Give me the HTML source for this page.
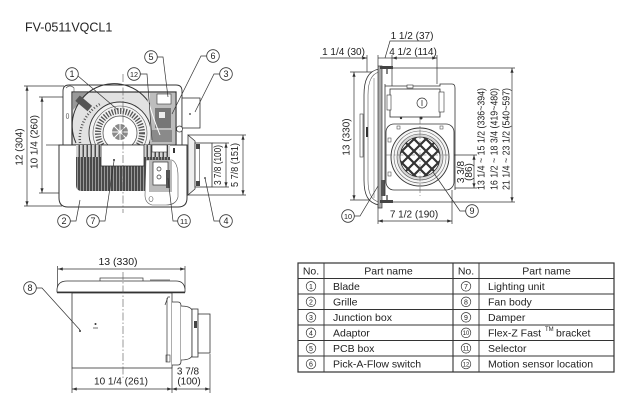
<!DOCTYPE html>
<html><head><meta charset="utf-8"><style>
html,body{margin:0;padding:0;background:#fff;}
svg{display:block;}
text{font-family:"Liberation Sans",Arial,sans-serif;fill:#222;}
</style></head><body>
<svg width="640" height="408" viewBox="0 0 640 408" xmlns="http://www.w3.org/2000/svg">
<defs>
<marker id="ar" viewBox="0 0 6 4" refX="6" refY="2" markerWidth="5" markerHeight="3.2" markerUnits="userSpaceOnUse" orient="auto-start-reverse"><path d="M0,0 L6,2 L0,4z" fill="#333"/></marker>
<pattern id="hd" width="3" height="10" patternUnits="userSpaceOnUse"><rect width="3" height="10" fill="#4a4a4a"/><rect x="2" width="1" height="10" fill="#9a9a9a"/></pattern>
<pattern id="hl" width="4" height="10" patternUnits="userSpaceOnUse"><rect width="4" height="10" fill="#d4d4d4"/><rect x="2.5" width="1.5" height="10" fill="#4a4a4a"/></pattern>
<clipPath id="dc"><circle cx="420" cy="157" r="20"/></clipPath>
</defs>

<text x="25" y="31.5" font-size="12.5">FV-0511VQCL1</text>

<!-- ============ TOP-LEFT DRAWING ============ -->
<g stroke="#333" stroke-width="0.7" fill="none">
  <line x1="24" y1="86" x2="64" y2="86"/>
  <line x1="24" y1="206" x2="62" y2="206"/>
  <line x1="27" y1="86" x2="27" y2="206" marker-start="url(#ar)" marker-end="url(#ar)"/>
  <line x1="39" y1="97" x2="72" y2="97"/>
  <line x1="39" y1="193" x2="78" y2="193"/>
  <line x1="42" y1="97" x2="42" y2="193" marker-start="url(#ar)" marker-end="url(#ar)"/>
  <line x1="46" y1="145" x2="59" y2="145"/>
</g>
<text x="20" y="147" font-size="10" text-anchor="middle" dominant-baseline="central" transform="rotate(-90 20 147)">12 (304)</text>
<text x="35" y="142" font-size="10" text-anchor="middle" dominant-baseline="central" transform="rotate(-90 35 142)">10 1/4 (260)</text>

<path d="M63 145 L63 91 Q63 85 69 85 L176 85 Q182 85 182 91 L182 145" fill="#fff" stroke="#333" stroke-width="0.9"/>
<path d="M66 88 Q70 84 74 88 L74 92" fill="none" stroke="#555" stroke-width="0.6"/>
<ellipse cx="67.5" cy="116" rx="1.3" ry="2.5" fill="none" stroke="#555" stroke-width="0.6"/>
<rect x="72" y="92" width="104" height="53" fill="#e2e2e2" stroke="#333" stroke-width="1.2"/>
<path d="M73 93 L88 93 L73 110 Z" fill="#999"/>
<path d="M76 143 A40 40 0 0 1 152 108" fill="none" stroke="#333" stroke-width="1"/>
<path d="M80 143 A40 40 0 0 1 100 104" fill="none" stroke="#555" stroke-width="2.5" stroke-dasharray="1 2"/>
<circle cx="120" cy="133" r="31" fill="#f2f2f2" stroke="#333" stroke-width="0.9"/>
<circle cx="120" cy="133" r="27" fill="none" stroke="#555" stroke-width="0.6"/>
<circle cx="120" cy="133" r="22" fill="none" stroke="#555" stroke-width="6" stroke-dasharray="1.3 1.5"/>
<circle cx="120" cy="133" r="17" fill="#fff" stroke="#444" stroke-width="0.7"/>
<circle cx="120" cy="132" r="8" fill="#8a8a8a"/>
<path d="M120 124 L120 140 M112 132 L128 132 M114 126 L126 138 M126 126 L114 138" stroke="#fff" stroke-width="1"/>
<rect x="76" y="100" width="16" height="7" transform="rotate(40 84 103)" fill="#555"/>
<rect x="150" y="93" width="25" height="52" fill="#bdbdbd"/>
<rect x="157" y="94" width="14" height="10" fill="#fff" stroke="#333" stroke-width="0.6"/>
<rect x="155" y="108" width="16" height="20" fill="#777"/>
<rect x="159" y="112" width="6" height="6" fill="#eee"/>
<rect x="152" y="130" width="20" height="12" fill="#8a8a8a"/>
<path d="M148 100 Q152 115 160 135" fill="none" stroke="#fff" stroke-width="1"/>

<rect x="182" y="98" width="18" height="30" fill="#fff" stroke="#333" stroke-width="0.8"/>
<circle cx="190" cy="114" r="0.9" fill="#333"/>
<circle cx="179.5" cy="129" r="3" fill="#fff" stroke="#333" stroke-width="0.7"/>

<g stroke="#333" stroke-width="0.7" fill="none">
  <line x1="188" y1="135" x2="246" y2="135"/>
  <line x1="188" y1="195" x2="246" y2="195"/>
  <line x1="212" y1="143" x2="229" y2="143"/>
  <line x1="212" y1="187" x2="229" y2="187"/>
  <line x1="226" y1="143" x2="226" y2="187" marker-start="url(#ar)" marker-end="url(#ar)"/>
  <line x1="243" y1="135" x2="243" y2="195" marker-start="url(#ar)" marker-end="url(#ar)"/>
</g>
<polygon points="188,135 195,141 195,189 188,195" fill="#eee" stroke="#333" stroke-width="0.8"/>
<rect x="195" y="143" width="17" height="44" fill="#fff" stroke="#333" stroke-width="0.8"/>
<rect x="196" y="144" width="4" height="5" fill="#444"/>
<rect x="196" y="181" width="4" height="5" fill="#444"/>
<line x1="199.5" y1="149" x2="199.5" y2="181" stroke="#777" stroke-width="0.8"/>
<circle cx="205" cy="178" r="0.9" fill="#333"/>
<text x="218.5" y="165" font-size="10" text-anchor="middle" dominant-baseline="central" transform="rotate(-90 218.5 165)" textLength="40" lengthAdjust="spacingAndGlyphs">3 7/8 (100)</text>
<text x="235.5" y="165" font-size="10" text-anchor="middle" dominant-baseline="central" transform="rotate(-90 235.5 165)" textLength="44" lengthAdjust="spacingAndGlyphs">5 7/8 (151)</text>

<path d="M59 145 L187 145 L187 198 Q187 207 178 207 L68 207 Q59 207 59 198 Z" fill="#fff" stroke="#333" stroke-width="1"/>
<path d="M76 145 L170 145 L170 160 L148 160 L148 191 L82 191 Q76 191 76 185 Z" fill="url(#hd)"/>
<rect x="76" y="145" width="25" height="12" fill="url(#hl)"/>
<rect x="144" y="145" width="26" height="12" fill="url(#hl)"/>
<rect x="152" y="145" width="15" height="7" fill="#fff" stroke="#333" stroke-width="0.6"/>
<rect x="101" y="145" width="43" height="21" fill="#fff" stroke="#333" stroke-width="0.8"/>
<circle cx="114" cy="160" r="1" fill="#333"/>
<path d="M146 160 L172 160 Q178 163 178 176 L178 197 Q176 205 166 205 L152 205 Q145 203 145 195 Z" fill="#fff" stroke="#555" stroke-width="0.6"/>
<rect x="149" y="160" width="23" height="32" fill="#bbb"/>
<rect x="153" y="162" width="15" height="23" fill="#fff" stroke="#333" stroke-width="0.7"/>
<circle cx="159" cy="169" r="2" fill="none" stroke="#333" stroke-width="0.7"/>
<circle cx="159" cy="177" r="2" fill="none" stroke="#333" stroke-width="0.7"/>
<rect x="166" y="170" width="4" height="18" fill="#555"/>
<ellipse cx="151" cy="199" rx="2" ry="2.5" fill="none" stroke="#555" stroke-width="0.6"/>
<rect x="173" y="148" width="2" height="5" fill="#333"/>

<line x1="123" y1="74" x2="123" y2="213" stroke="#555" stroke-width="0.6" stroke-dasharray="8 2 1.5 2"/>

<g stroke="#333" stroke-width="0.7" fill="none">
  <path d="M78 76 L118 110"/>
  <path d="M140.5 74 L147 74 L152 140"/>
  <path d="M157.5 57 L163 57 L168 97"/>
  <path d="M206.5 56 L201 56 L172 114"/>
  <path d="M219.5 74 L214 74 L195 112"/>
  <path d="M70.5 221 L76 221 L80 200"/>
  <path d="M99.5 221 L105 221 L114 161"/>
  <path d="M177.5 221 L173 221 L168 178"/>
  <path d="M219.5 221 L214 221 L205 178"/>
</g>

<!-- ============ TOP-RIGHT DRAWING ============ -->
<g stroke="#333" stroke-width="0.7" fill="none">
  <line x1="320" y1="58" x2="367" y2="58" marker-end="url(#ar)"/>
  <line x1="378" y1="58" x2="392" y2="58"/>
  <line x1="392" y1="58" x2="437" y2="58" marker-start="url(#ar)" marker-end="url(#ar)"/>
  <line x1="367" y1="55" x2="367" y2="72"/>
  <line x1="378" y1="55" x2="378" y2="66"/>
  <line x1="392" y1="55" x2="392" y2="86"/>
  <line x1="437" y1="55" x2="437" y2="84"/>
  <path d="M430 41 L390 41 L385 58"/>
  <line x1="378" y1="68" x2="515" y2="68"/>
  <line x1="378" y1="202" x2="515" y2="202"/>
  <line x1="512" y1="68" x2="512" y2="202" marker-start="url(#ar)" marker-end="url(#ar)"/>
  <line x1="350" y1="72" x2="374" y2="72"/>
  <line x1="350" y1="200" x2="374" y2="200"/>
  <line x1="354" y1="72" x2="354" y2="200" marker-start="url(#ar)" marker-end="url(#ar)"/>
  <line x1="378" y1="205" x2="378" y2="224"/>
  <line x1="452" y1="190" x2="452" y2="224"/>
  <line x1="378" y1="221" x2="452" y2="221" marker-start="url(#ar)" marker-end="url(#ar)"/>
  <line x1="448" y1="155" x2="477" y2="155"/>
  <line x1="455" y1="188" x2="477" y2="188"/>
  <line x1="474" y1="155" x2="474" y2="188" marker-start="url(#ar)" marker-end="url(#ar)"/>
</g>
<text x="412" y="39" font-size="10" text-anchor="middle">1 1/2 (37)</text>
<text x="343.5" y="55" font-size="10" text-anchor="middle">1 1/4 (30)</text>
<text x="413" y="55" font-size="10" text-anchor="middle">4 1/2 (114)</text>
<text x="347" y="137" font-size="10" text-anchor="middle" dominant-baseline="central" transform="rotate(-90 347 137)">13 (330)</text>
<text x="414" y="215" font-size="10" text-anchor="middle" dominant-baseline="central">7 1/2 (190)</text>
<text x="461.5" y="172" font-size="10" text-anchor="middle" dominant-baseline="central" transform="rotate(-90 461.5 172)">3 3/8</text>
<text x="469.5" y="172" font-size="10" text-anchor="middle" dominant-baseline="central" transform="rotate(-90 469.5 172)">(86)</text>
<text x="482" y="139" font-size="10" text-anchor="middle" dominant-baseline="central" transform="rotate(-90 482 139)" textLength="102" lengthAdjust="spacingAndGlyphs">13 1/4 ~ 15 1/2 (336~394)</text>
<text x="495" y="139" font-size="10" text-anchor="middle" dominant-baseline="central" transform="rotate(-90 495 139)" textLength="102" lengthAdjust="spacingAndGlyphs">16 1/2 ~ 18 3/4 (419~480)</text>
<text x="507" y="139" font-size="10" text-anchor="middle" dominant-baseline="central" transform="rotate(-90 507 139)" textLength="102" lengthAdjust="spacingAndGlyphs">21 1/4 ~ 23 1/2 (540~597)</text>

<path d="M379 69 C368 71 364 80 364 95 L364 180 C364 195 368 203 379 205 Z" fill="#fff" stroke="#333" stroke-width="0.8"/>
<path d="M379 72 C371 74 368 82 368 95 L368 180 C368 193 371 200 379 202" fill="none" stroke="#555" stroke-width="0.6"/>
<line x1="374" y1="78" x2="374" y2="198" stroke="#777" stroke-width="0.6"/>
<rect x="360" y="114" width="3" height="43" fill="#fff" stroke="#444" stroke-width="0.6"/>
<rect x="366" y="127" width="2" height="10" fill="#333"/>
<rect x="378" y="66" width="4" height="142" fill="#aaa" stroke="#333" stroke-width="0.7"/>
<rect x="380" y="66" width="13" height="3" fill="#444"/>
<line x1="387" y1="69" x2="387" y2="74" stroke="#333" stroke-width="1.2"/>
<rect x="380" y="200" width="13" height="3" fill="#444"/>
<line x1="387" y1="195" x2="387" y2="200" stroke="#333" stroke-width="1.2"/>
<rect x="381" y="180" width="4" height="16" fill="#555"/>
<path d="M385 86 L440 86 L440 84 L452 84 Q455 84 455 88 L455 190" fill="none" stroke="#333" stroke-width="0.8"/>
<line x1="385" y1="84" x2="385" y2="196" stroke="#333" stroke-width="0.8"/>
<rect x="390" y="89" width="50" height="28" fill="#fff" stroke="#333" stroke-width="0.8"/>
<rect x="387" y="95" width="4" height="15" fill="#fff" stroke="#333" stroke-width="0.6"/>
<rect x="439" y="92" width="5" height="20" fill="#fff" stroke="#333" stroke-width="0.6"/>
<rect x="407" y="85" width="6" height="3" fill="#fff" stroke="#333" stroke-width="0.6"/>
<circle cx="422" cy="103" r="5" fill="#fff" stroke="#333" stroke-width="0.7"/>
<line x1="422" y1="100" x2="422" y2="106" stroke="#333" stroke-width="0.8"/>
<circle cx="401" cy="118" r="1.2" fill="#333"/>
<circle cx="421" cy="118" r="1.5" fill="#333"/>
<rect x="386" y="124" width="68" height="66" rx="8" fill="#fff" stroke="#333" stroke-width="0.8"/>
<rect x="388" y="138" width="3" height="4" fill="none" stroke="#333" stroke-width="0.5"/>
<rect x="388" y="172" width="3" height="4" fill="none" stroke="#333" stroke-width="0.5"/>
<rect x="397" y="126" width="3" height="3" fill="none" stroke="#333" stroke-width="0.5"/>
<rect x="440" y="126" width="3" height="3" fill="none" stroke="#333" stroke-width="0.5"/>
<circle cx="420" cy="157" r="29" fill="#f6f6f6" stroke="#333" stroke-width="0.9"/>
<circle cx="420" cy="157" r="26" fill="none" stroke="#666" stroke-width="0.6"/>
<circle cx="420" cy="157" r="23" fill="#d8d8d8" stroke="#555" stroke-width="0.6"/>
<circle cx="420" cy="157" r="20" fill="#fff" stroke="#333" stroke-width="0.8"/>
<g clip-path="url(#dc)" stroke="#333" stroke-width="2.2">
  <line x1="371" y1="132" x2="421" y2="182"/>
  <line x1="383" y1="132" x2="433" y2="182"/>
  <line x1="395" y1="132" x2="445" y2="182"/>
  <line x1="407" y1="132" x2="457" y2="182"/>
  <line x1="419" y1="132" x2="469" y2="182"/>
  <line x1="371" y1="182" x2="421" y2="132"/>
  <line x1="383" y1="182" x2="433" y2="132"/>
  <line x1="395" y1="182" x2="445" y2="132"/>
  <line x1="407" y1="182" x2="457" y2="132"/>
  <line x1="419" y1="182" x2="469" y2="132"/>
</g>
<line x1="420" y1="118" x2="420" y2="196" stroke="#555" stroke-width="0.5" stroke-dasharray="6 2 1.5 2"/>
<line x1="386" y1="155" x2="448" y2="155" stroke="#555" stroke-width="0.5" stroke-dasharray="6 2 1.5 2"/>
<g stroke="#333" stroke-width="0.7" fill="none">
  <path d="M354.5 216 L360 216 L378 186"/>
  <path d="M465.5 211 L460 211 L433 172"/>
</g>

<!-- ============ BOTTOM-LEFT DRAWING ============ -->
<g stroke="#333" stroke-width="0.7" fill="none">
  <line x1="57.5" y1="266" x2="57.5" y2="289"/>
  <line x1="185" y1="266" x2="185" y2="289"/>
  <line x1="58" y1="269" x2="185" y2="269" marker-start="url(#ar)" marker-end="url(#ar)"/>
  <line x1="72" y1="368" x2="72" y2="393"/>
  <line x1="172" y1="365" x2="172" y2="393"/>
  <line x1="210" y1="354" x2="210" y2="393"/>
  <line x1="72" y1="389" x2="172" y2="389" marker-start="url(#ar)" marker-end="url(#ar)"/>
  <line x1="172" y1="389" x2="210" y2="389" marker-start="url(#ar)" marker-end="url(#ar)"/>
</g>
<text x="118" y="262" font-size="10.5" text-anchor="middle" dominant-baseline="central">13 (330)</text>
<text x="121" y="382" font-size="10" text-anchor="middle" dominant-baseline="central">10 1/4 (261)</text>
<text x="188" y="372" font-size="10" text-anchor="middle" dominant-baseline="central">3 7/8</text>
<text x="189" y="382" font-size="10" text-anchor="middle" dominant-baseline="central">(100)</text>

<rect x="100" y="278" width="43" height="3.5" fill="#fff" stroke="#333" stroke-width="0.7"/>
<path d="M57 292 L57 289 Q58 281 67 281 L176 281 Q184 281 185 289 L185 292 Z" fill="#fff" stroke="#333" stroke-width="0.8"/>
<rect x="150" y="279.5" width="20" height="2" fill="#777"/>
<line x1="57" y1="292.5" x2="185" y2="292.5" stroke="#333" stroke-width="1.6"/>
<rect x="72" y="293" width="100" height="75" fill="#fff" stroke="#333" stroke-width="0.8"/>
<line x1="167" y1="298" x2="167" y2="362" stroke="#333" stroke-width="0.7"/>
<path d="M165 305 L168 297 L170 297" fill="none" stroke="#333" stroke-width="0.7"/>
<rect x="166" y="355" width="4" height="7" fill="none" stroke="#333" stroke-width="0.6"/>
<path d="M172 302 L178 302 Q181 302 181 306 L181 361 Q181 365 178 365 L172 365" fill="#fff" stroke="#333" stroke-width="0.8"/>
<path d="M181 306 Q190 306 192 310 L192 356 Q190 360 181 360" fill="#fff" stroke="#333" stroke-width="0.8"/>
<rect x="192" y="309" width="6" height="48" fill="#fff" stroke="#333" stroke-width="0.8"/>
<rect x="198" y="314" width="12" height="39" fill="#fff" stroke="#333" stroke-width="0.8"/>
<rect x="194" y="321" width="3" height="7" fill="#444"/>
<line x1="123" y1="272" x2="123" y2="378" stroke="#555" stroke-width="0.6" stroke-dasharray="8 2 1.5 2"/>
<circle cx="80" cy="331" r="1" fill="#333"/>
<circle cx="95.5" cy="324" r="1" fill="#333"/>
<line x1="93" y1="328" x2="98" y2="328" stroke="#333" stroke-width="0.7"/>
<path d="M36.5 288 L42 288 L80 330" fill="none" stroke="#333" stroke-width="0.7"/>

<!-- ============ CALLOUTS ============ -->
<g fill="#fff" stroke="#333" stroke-width="0.8">
  <circle cx="72" cy="74" r="6.3"/>
  <circle cx="134" cy="74" r="6.3"/>
  <circle cx="151" cy="57" r="6.3"/>
  <circle cx="213" cy="56" r="6.3"/>
  <circle cx="226" cy="74" r="6.3"/>
  <circle cx="64" cy="221" r="6.3"/>
  <circle cx="93" cy="221" r="6.3"/>
  <circle cx="184" cy="221" r="6.3"/>
  <circle cx="226" cy="221" r="6.3"/>
  <circle cx="348" cy="216" r="6.3"/>
  <circle cx="472" cy="211" r="6.3"/>
  <circle cx="30" cy="288" r="6.3"/>
</g>
<g font-size="9" text-anchor="middle">
  <text x="72" y="77.2">1</text>
  <text x="134" y="77" font-size="7.5" textLength="8" lengthAdjust="spacingAndGlyphs">12</text>
  <text x="151" y="60.2">5</text>
  <text x="213" y="59.2">6</text>
  <text x="226" y="77.2">3</text>
  <text x="64" y="224.2">2</text>
  <text x="93" y="224.2">7</text>
  <text x="184" y="224" font-size="7.5" textLength="8" lengthAdjust="spacingAndGlyphs">11</text>
  <text x="226" y="224.2">4</text>
  <text x="348" y="219" font-size="7.5" textLength="8" lengthAdjust="spacingAndGlyphs">10</text>
  <text x="472" y="214.2">9</text>
  <text x="30" y="291.2">8</text>
</g>

<!-- ============ TABLE ============ -->
<g stroke="#333" stroke-width="0.9" fill="none">
  <rect x="298" y="263" width="316" height="109" stroke-width="1.2"/>
  <line x1="298" y1="278.5" x2="614" y2="278.5"/>
  <line x1="298" y1="294" x2="614" y2="294"/>
  <line x1="298" y1="309.5" x2="614" y2="309.5"/>
  <line x1="298" y1="325" x2="614" y2="325"/>
  <line x1="298" y1="340.5" x2="614" y2="340.5"/>
  <line x1="298" y1="356" x2="614" y2="356"/>
  <line x1="324" y1="263" x2="324" y2="372"/>
  <line x1="453" y1="263" x2="453" y2="372" stroke-width="1.1"/>
  <line x1="479" y1="263" x2="479" y2="372"/>
</g>
<g font-size="10.5">
  <text x="311" y="274.5" text-anchor="middle">No.</text>
  <text x="388.5" y="274.5" text-anchor="middle">Part name</text>
  <text x="466" y="274.5" text-anchor="middle">No.</text>
  <text x="546.5" y="274.5" text-anchor="middle">Part name</text>
  <text x="333" y="290">Blade</text>
  <text x="333" y="305.5">Grille</text>
  <text x="333" y="321">Junction box</text>
  <text x="333" y="336.5">Adaptor</text>
  <text x="333" y="352">PCB box</text>
  <text x="333" y="367.5">Pick-A-Flow switch</text>
  <text x="488" y="290">Lighting unit</text>
  <text x="488" y="305.5">Fan body</text>
  <text x="488" y="321">Damper</text>
  <text x="488" y="336.5">Flex-Z Fast</text>
  <text x="545" y="331" font-size="6">TM</text>
  <text x="556" y="336.5">bracket</text>
  <text x="488" y="352">Selector</text>
  <text x="488" y="367.5">Motion sensor location</text>
</g>
<g fill="#fff" stroke="#333" stroke-width="0.7">
  <circle cx="311" cy="286.3" r="4.8"/>
  <circle cx="311" cy="301.8" r="4.8"/>
  <circle cx="311" cy="317.3" r="4.8"/>
  <circle cx="311" cy="332.8" r="4.8"/>
  <circle cx="311" cy="348.3" r="4.8"/>
  <circle cx="311" cy="364" r="4.8"/>
  <circle cx="466" cy="286.3" r="4.8"/>
  <circle cx="466" cy="301.8" r="4.8"/>
  <circle cx="466" cy="317.3" r="4.8"/>
  <circle cx="466" cy="332.8" r="4.8"/>
  <circle cx="466" cy="348.3" r="4.8"/>
  <circle cx="466" cy="364" r="4.8"/>
</g>
<g font-size="7" text-anchor="middle">
  <text x="311" y="288.8">1</text>
  <text x="311" y="304.3">2</text>
  <text x="311" y="319.8">3</text>
  <text x="311" y="335.3">4</text>
  <text x="311" y="350.8">5</text>
  <text x="311" y="366.5">6</text>
  <text x="466" y="288.8">7</text>
  <text x="466" y="304.3">8</text>
  <text x="466" y="319.8">9</text>
  <text x="466" y="335.1" font-size="6" textLength="6.5" lengthAdjust="spacingAndGlyphs">10</text>
  <text x="466" y="350.6" font-size="6" textLength="6.5" lengthAdjust="spacingAndGlyphs">11</text>
  <text x="466" y="366.3" font-size="6" textLength="6.5" lengthAdjust="spacingAndGlyphs">12</text>
</g>
</svg>
</body></html>
